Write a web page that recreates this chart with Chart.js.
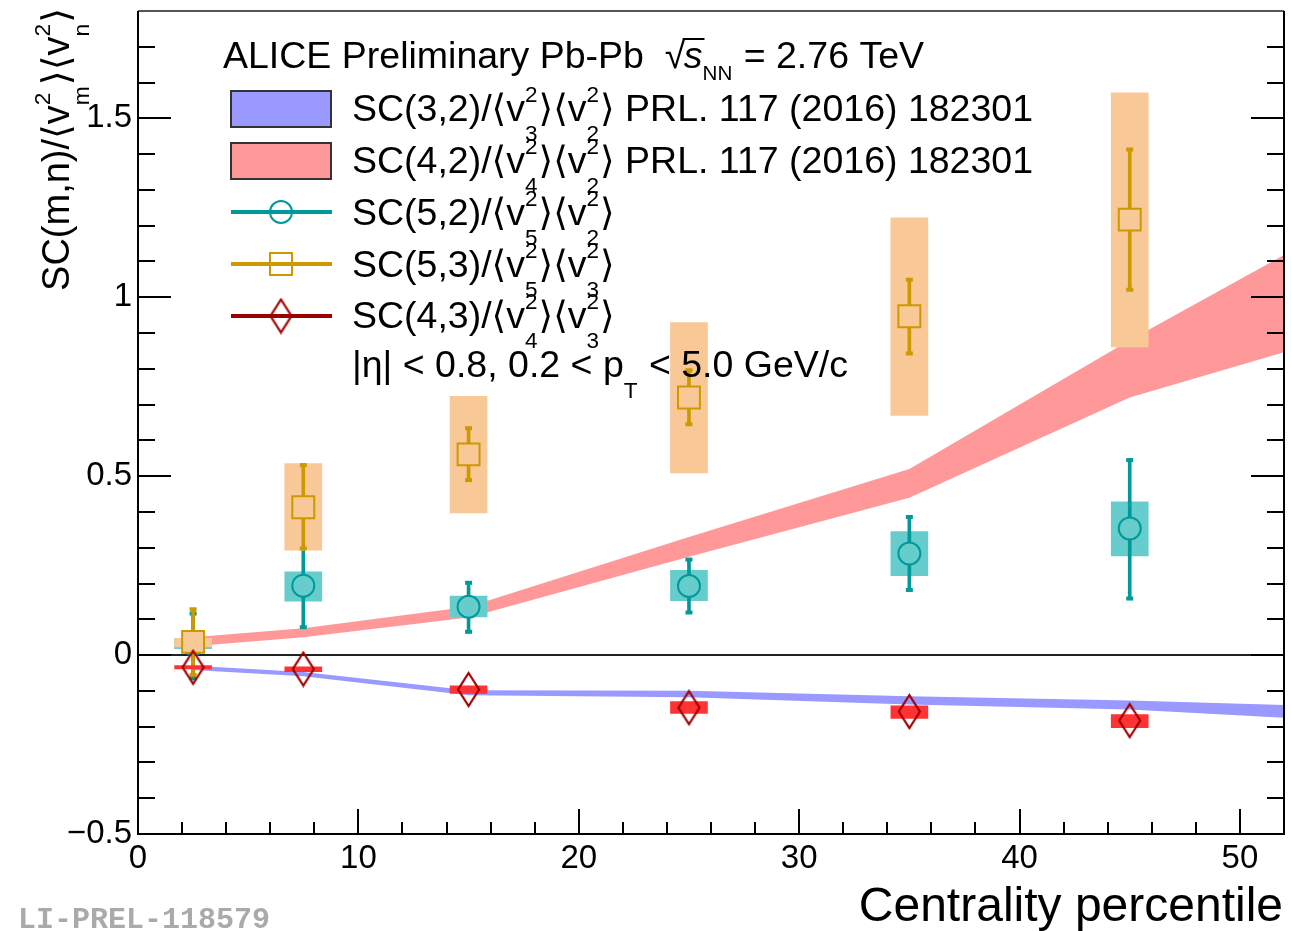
<!DOCTYPE html>
<html><head><meta charset="utf-8">
<script src="https://cdn.jsdelivr.net/npm/chart.js@4.4.1/dist/chart.umd.min.js"></script>
<style>html,body{margin:0;padding:0;background:#fff;}canvas{display:block;}</style>
</head><body>
<canvas id="c" width="1291" height="931"></canvas>
<script>
// ---------------- data ----------------
const centrality = [2.5, 7.5, 15, 25, 35, 45];
const bandCentrality = [2.5, 7.5, 15, 25, 35, 45, 55];

// SC(3,2) band (PRL 117 (2016) 182301)
const sc32Low  = [-0.042, -0.059, -0.112, -0.118, -0.138, -0.152, -0.185];
const sc32High = [-0.030, -0.047, -0.098, -0.100, -0.115, -0.127, -0.145];
// SC(4,2) band
const sc42Low  = [0.025, 0.050, 0.105, 0.275, 0.440, 0.720, 0.900];
const sc42High = [0.050, 0.075, 0.135, 0.330, 0.520, 0.880, 1.220];

// SC(5,2)
const sc52        = [0.030, 0.194, 0.135, 0.193, 0.284, 0.354];
const sc52StatLow = [-0.065, 0.078, 0.065, 0.119, 0.182, 0.158];
const sc52StatHigh= [0.116, 0.310, 0.202, 0.267, 0.386, 0.545];
const sc52SysLow  = [0.018, 0.151, 0.107, 0.152, 0.222, 0.277];
const sc52SysHigh = [0.045, 0.233, 0.165, 0.237, 0.345, 0.428];

// SC(5,3)
const sc53        = [0.037, 0.413, 0.561, 0.720, 0.947, 1.217];
const sc53StatLow = [-0.055, 0.298, 0.489, 0.645, 0.843, 1.021];
const sc53StatHigh= [0.128, 0.531, 0.634, 0.796, 1.049, 1.413];
const sc53SysLow  = [0.023, 0.293, 0.397, 0.509, 0.670, 0.861];
const sc53SysHigh = [0.047, 0.535, 0.723, 0.929, 1.222, 1.571];

// SC(4,3)
const sc43        = [-0.034, -0.039, -0.096, -0.147, -0.158, -0.183];
const sc43SysLow  = [-0.039, -0.046, -0.107, -0.163, -0.177, -0.203];
const sc43SysHigh = [-0.029, -0.033, -0.086, -0.130, -0.142, -0.166];

// axes
const xTickValues = [0, 10, 20, 30, 40, 50];
const xTickLabels = ['0', '10', '20', '30', '40', '50'];
const yTickValues = [-0.5, 0, 0.5, 1, 1.5];
const yTickLabels = ['\u22120.5', '0', '0.5', '1', '1.5'];
const xMinorStep = 2, yMinorStep = 0.1;

// ---------------- styles ----------------
const TEAL = '#009999', TEAL_BOX = '#66cccc';
const ORANGE = '#cc9900', ORANGE_BOX = '#f9c897';
const DARKRED = '#a00000', RED_BOX = '#ff3333';
const BLUE_BAND = '#9999ff', RED_BAND = '#ff9999';
const FAMILY = '"Liberation Sans", "DejaVu Sans", Arial, sans-serif';

const pts = (xs, ys) => xs.map((x, i) => ({x, y: ys[i]}));
const ranges = (xs, lo, hi) => xs.map((x, i) => ({x, y: [lo[i], hi[i]]}));
const caps = (xs, lo, hi) => xs.flatMap((x, i) => [{x, y: lo[i]}, {x, y: hi[i]}]);

function diamondCanvas(w, h, color, lw) {
  const c = document.createElement('canvas');
  c.width = w + 4; c.height = h + 4;
  const g = c.getContext('2d');
  g.strokeStyle = color; g.lineWidth = lw; g.lineJoin = 'miter';
  g.beginPath();
  g.moveTo(c.width / 2, 2); g.lineTo(c.width - 2, c.height / 2);
  g.lineTo(c.width / 2, c.height - 2); g.lineTo(2, c.height / 2); g.closePath();
  g.stroke();
  return c;
}
const diamond = diamondCanvas(21, 33, DARKRED, 2.2);

// ---------------- rich text helper ----------------
const font = (s, it) => `${it ? 'italic ' : ''}${s}px ${FAMILY}`;
function rich(ctx, parts, x, y, size, draw) {
  let cx = x;
  for (const p of parts) {
    if (typeof p === 'string') {
      ctx.font = font(size);
      if (draw) ctx.fillText(p, cx, y);
      cx += ctx.measureText(p).width;
    } else if (p.sqrt) {
      ctx.font = font(size);
      const sw = ctx.measureText('\u221A').width;
      if (draw) ctx.fillText('\u221A', cx, y);
      cx += sw * 0.92;
      ctx.font = font(size, true);
      const w = ctx.measureText(p.sqrt).width;
      if (draw) { ctx.fillText(p.sqrt, cx, y); ctx.fillRect(cx - 1, y - size * 0.80, w + 3, 2); }
      cx += w;
    } else {
      const s = size * (p.scale || 0.6);
      ctx.font = font(s);
      let w = 0;
      if (p.sup) { if (draw) ctx.fillText(p.sup, cx, y - size * 0.5); w = Math.max(w, ctx.measureText(p.sup).width); }
      if (p.sub) { if (draw) ctx.fillText(p.sub, cx + (p.dx || 0), y + size * (p.off || 0.52)); w = Math.max(w, ctx.measureText(p.sub).width + (p.dx || 0)); }
      cx += w + 1;
    }
  }
  return cx - x;
}
const vv = (m, n) => ['\u27E8v', {sup: '2', sub: m}, '\u27E9\u27E8v', {sup: '2', sub: n}, '\u27E9'];

const legendRows = [
  ['SC(3,2)/', ...vv('3', '2'), ' PRL. 117 (2016) 182301'],
  ['SC(4,2)/', ...vv('4', '2'), ' PRL. 117 (2016) 182301'],
  ['SC(5,2)/', ...vv('5', '2')],
  ['SC(5,3)/', ...vv('5', '3')],
  ['SC(4,3)/', ...vv('4', '3')],
  ['|\u03B7| < 0.8, 0.2 < p', {sub: 'T', off: 0.55}, ' < 5.0 GeV/c'],
];
const headerParts = ['ALICE Preliminary Pb-Pb  ', {sqrt: 's'}, {sub: 'NN', off: 0.32, scale: 0.55}, ' = 2.76 TeV'];
const yTitleParts = ['SC(m,n)/', ...vv('m', 'n')];

// ---------------- decoration plugin ----------------
const decor = {
  id: 'decor',
  beforeDatasetsDraw(chart) {
    const {ctx, chartArea: a, scales: {y}} = chart;
    ctx.save();
    ctx.strokeStyle = '#222'; ctx.lineWidth = 2;
    const y0 = Math.round(y.getPixelForValue(0));
    ctx.beginPath(); ctx.moveTo(a.left, y0); ctx.lineTo(a.right, y0); ctx.stroke();
    ctx.restore();
  },
  afterDatasetsDraw(chart) {
    const {ctx, chartArea: a, scales: {x, y}} = chart;
    ctx.save();
    // frame
    ctx.lineWidth = 2; ctx.strokeStyle = '#555';
    ctx.beginPath(); ctx.moveTo(a.left, a.top); ctx.lineTo(a.right, a.top); ctx.stroke();
    ctx.strokeStyle = '#000';
    ctx.beginPath();
    ctx.moveTo(a.left, a.top); ctx.lineTo(a.left, a.bottom); ctx.lineTo(a.right, a.bottom); ctx.lineTo(a.right, a.top);
    ctx.stroke();
    // y ticks (left & right, inward)
    ctx.beginPath();
    for (let k = Math.round(y.min / yMinorStep); k * yMinorStep < y.max - 1e-9; k++) {
      const v = k * yMinorStep;
      const py = Math.round(y.getPixelForValue(v));
      const len = (k % 5 === 0) ? 33 : 17;
      ctx.moveTo(a.left, py); ctx.lineTo(a.left + len, py);
      ctx.moveTo(a.right, py); ctx.lineTo(a.right - len, py);
    }
    // x ticks (bottom, inward)
    for (let v = x.min; v <= x.max + 1e-9; v += xMinorStep) {
      const px = Math.round(x.getPixelForValue(v));
      const len = (v % 10 === 0) ? 25 : 12;
      ctx.moveTo(px, a.bottom); ctx.lineTo(px, a.bottom - len);
    }
    ctx.stroke();

    // legend
    ctx.fillStyle = '#000'; ctx.textBaseline = 'alphabetic'; ctx.textAlign = 'left';
    const size = 37.5;
    rich(ctx, headerParts, 223, 68, size, true);
    const rowBase = [121, 173, 225, 277, 328, 377];
    legendRows.forEach((r, i) => rich(ctx, r, 352, rowBase[i], size, true));
    // swatches
    ctx.lineWidth = 2; ctx.strokeStyle = '#333';
    ctx.fillStyle = BLUE_BAND; ctx.fillRect(231, 91, 100, 36); ctx.strokeRect(231, 91, 100, 36);
    ctx.fillStyle = RED_BAND; ctx.fillRect(231, 143, 100, 36); ctx.strokeRect(231, 143, 100, 36);
    // marker swatches
    ctx.fillStyle = TEAL; ctx.fillRect(231, 210, 101, 4);
    ctx.strokeStyle = TEAL; ctx.lineWidth = 2;
    ctx.beginPath(); ctx.arc(281, 212, 11, 0, Math.PI * 2); ctx.stroke();
    ctx.fillStyle = ORANGE; ctx.fillRect(231, 262, 101, 4);
    ctx.strokeStyle = ORANGE; ctx.strokeRect(270, 253, 22, 22);
    ctx.fillStyle = DARKRED; ctx.fillRect(231, 314, 101, 4);
    ctx.drawImage(diamond, 281 - diamond.width / 2, 316 - diamond.height / 2);

    // axis titles
    ctx.fillStyle = '#000';
    ctx.font = font(48); ctx.textAlign = 'right';
    ctx.fillText('Centrality percentile', 1283, 921);
    ctx.textAlign = 'left';
    const tw = rich(ctx, yTitleParts, 0, 0, 38, false);
    ctx.save();
    ctx.translate(69, 8 + tw);
    ctx.rotate(-Math.PI / 2);
    rich(ctx, yTitleParts, 0, 0, 38, true);
    ctx.restore();

    // watermark
    ctx.fillStyle = '#aaaaaa';
    ctx.font = 'bold 30px "Liberation Mono", "DejaVu Sans Mono", monospace';
    ctx.fillText('LI-PREL-118579', 18, 928);
    ctx.restore();
  }
};

// ---------------- chart ----------------
new Chart(document.getElementById('c'), {
  type: 'scatter',
  data: {
    datasets: [
      {type: 'line', data: pts(bandCentrality, sc32Low), borderWidth: 0, pointRadius: 0, fill: false, order: 100},
      {type: 'line', data: pts(bandCentrality, sc32High), borderWidth: 0, pointRadius: 0, fill: '-1', backgroundColor: BLUE_BAND, order: 99},
      {type: 'line', data: pts(bandCentrality, sc42Low), borderWidth: 0, pointRadius: 0, fill: false, order: 98},
      {type: 'line', data: pts(bandCentrality, sc42High), borderWidth: 0, pointRadius: 0, fill: '-1', backgroundColor: RED_BAND, order: 97},

      {type: 'bar', data: ranges(centrality, sc52SysLow, sc52SysHigh), backgroundColor: TEAL_BOX, barThickness: 37, grouped: false, order: 90},
      {type: 'bar', data: ranges(centrality, sc52StatLow, sc52StatHigh), backgroundColor: TEAL, barThickness: 3, grouped: false, order: 89},
      {type: 'scatter', data: caps(centrality, sc52StatLow, sc52StatHigh), pointStyle: 'line', pointRadius: 3.5, borderWidth: 4, borderColor: TEAL, order: 88},
      {type: 'scatter', data: pts(centrality, sc52), pointStyle: 'circle', pointRadius: 11, borderWidth: 2, borderColor: TEAL, backgroundColor: TEAL_BOX, order: 87},

      {type: 'bar', data: ranges(centrality, sc53SysLow, sc53SysHigh), backgroundColor: ORANGE_BOX, barThickness: 37, grouped: false, order: 80},
      {type: 'bar', data: ranges(centrality, sc53StatLow, sc53StatHigh), backgroundColor: ORANGE, barThickness: 3, grouped: false, order: 79},
      {type: 'scatter', data: caps(centrality, sc53StatLow, sc53StatHigh), pointStyle: 'line', pointRadius: 3.5, borderWidth: 4, borderColor: ORANGE, order: 78},
      {type: 'scatter', data: pts(centrality, sc53), pointStyle: 'rect', pointRadius: 15.5, borderWidth: 2, borderColor: ORANGE, backgroundColor: ORANGE_BOX, order: 77},

      {type: 'bar', data: ranges(centrality, sc43SysLow, sc43SysHigh), backgroundColor: RED_BOX, barThickness: 37, grouped: false, order: 70},
      {type: 'scatter', data: pts(centrality, sc43), pointStyle: diamond, pointRadius: 10, order: 69},
    ]
  },
  options: {
    responsive: false,
    animation: false,
    devicePixelRatio: 1,
    layout: {autoPadding: false, padding: {left: 0, right: 7, top: 11, bottom: 0}},
    plugins: {legend: {display: false}, tooltip: {enabled: false}},
    scales: {
      x: {
        type: 'linear', min: 0, max: 52, offset: false,
        grid: {display: false, drawTicks: false}, border: {display: false},
        afterBuildTicks: s => { s.ticks = xTickValues.map(v => ({value: v})); },
        ticks: {autoSkip: false, maxRotation: 0, padding: 5, color: '#000',
          font: {family: FAMILY, size: 33},
          callback: (v, i) => xTickLabels[i]},
        afterFit: s => { s.height = 97; s.paddingLeft = 0; s.paddingRight = 0; }
      },
      y: {
        type: 'linear', min: -0.5, max: 1.8,
        grid: {display: false, drawTicks: false}, border: {display: false},
        afterBuildTicks: s => { s.ticks = yTickValues.map(v => ({value: v})); },
        ticks: {autoSkip: false, padding: 6, color: '#000',
          font: {family: FAMILY, size: 33},
          callback: (v, i) => yTickLabels[i]},
        afterFit: s => { s.width = 138; s.paddingTop = 0; s.paddingBottom = 0; }
      }
    }
  },
  plugins: [decor]
});
</script>
</body></html>
